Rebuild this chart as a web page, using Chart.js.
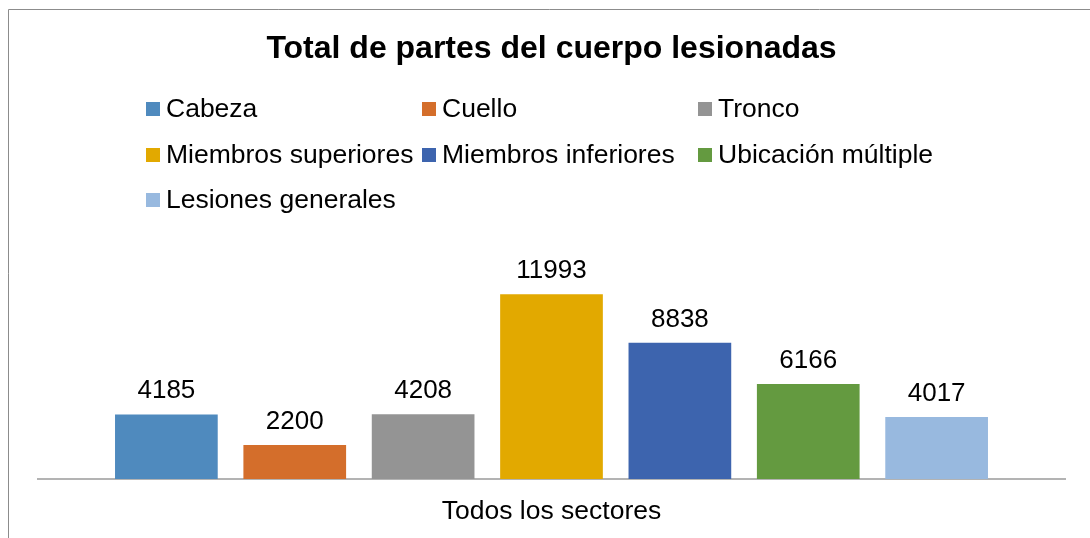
<!DOCTYPE html>
<html>
<head>
<meta charset="utf-8">
<script src="https://cdn.jsdelivr.net/npm/chart.js@4"></script>
<style>
  body { margin: 0; background: #fff; }
  canvas { display: block; }
</style>
</head>
<body>
<canvas id="chart" width="1090" height="538"></canvas>
<script>
const categories = ["Todos los sectores"];
const seriesNames = [
  "Cabeza",
  "Cuello",
  "Tronco",
  "Miembros superiores",
  "Miembros inferiores",
  "Ubicación múltiple",
  "Lesiones generales",
];
const seriesValues = [4185, 2200, 4208, 11993, 8838, 6166, 4017];
const seriesColors = ["#4f8abe", "#d46e2b", "#949494", "#e2a900", "#3d64ae", "#649a40", "#98b9df"];

const FONT = "'Liberation Sans', Arial, sans-serif";

// frame around the chart (only left and top edges are visible)
const framePlugin = {
  id: "frame",
  beforeDraw(chart) {
    const ctx = chart.ctx;
    ctx.save();
    ctx.strokeStyle = "#8c8c8c";
    ctx.lineWidth = 1;
    ctx.beginPath();
    ctx.moveTo(8.5, chart.height);
    ctx.lineTo(8.5, 9.5);
    ctx.lineTo(chart.width, 9.5);
    ctx.stroke();
    ctx.restore();
  },
};

// legend laid out in three fixed columns, like the original
const gridLegend = {
  id: "gridLegend",
  afterDraw(chart) {
    const ctx = chart.ctx;
    const colX = [146, 422, 698];
    const rowY = [117, 163, 208];
    ctx.save();
    ctx.font = "26.5px " + FONT;
    ctx.textBaseline = "alphabetic";
    ctx.textAlign = "left";
    chart.data.datasets.forEach((ds, i) => {
      const x = colX[i % 3];
      const y = rowY[Math.floor(i / 3)];
      ctx.fillStyle = ds.backgroundColor;
      ctx.fillRect(x, y - 15, 14, 14);
      ctx.fillStyle = "#000";
      ctx.fillText(ds.label, x + 20, y);
    });
    ctx.restore();
  },
};

// value labels above each bar
const valueLabels = {
  id: "valueLabels",
  afterDatasetsDraw(chart) {
    const ctx = chart.ctx;
    ctx.save();
    ctx.font = "26px " + FONT;
    ctx.fillStyle = "#000";
    ctx.textAlign = "center";
    ctx.textBaseline = "alphabetic";
    chart.data.datasets.forEach((ds, i) => {
      chart.getDatasetMeta(i).data.forEach((bar, j) => {
        ctx.fillText(String(ds.data[j]), bar.x, bar.y - 16);
      });
    });
    ctx.restore();
  },
};

new Chart(document.getElementById("chart"), {
  type: "bar",
  data: {
    labels: categories,
    datasets: seriesNames.map((name, i) => ({
      label: name,
      data: [seriesValues[i]],
      backgroundColor: seriesColors[i],
      categoryPercentage: 0.875,
      barPercentage: 0.8,
    })),
  },
  options: {
    responsive: false,
    animation: false,
    layout: { padding: { left: 38, right: 25, top: 0, bottom: 0 } },
    plugins: {
      legend: { display: false },
      tooltip: { enabled: false },
      title: {
        display: true,
        text: "Total de partes del cuerpo lesionadas",
        color: "#000",
        font: { family: FONT, size: 32, weight: "bold" },
        padding: { top: 30, bottom: 164 },
      },
    },
    scales: {
      x: {
        grid: { display: false, drawTicks: false },
        border: { display: true, color: "#b3b3b3", width: 2 },
        ticks: { color: "#000", padding: 17, font: { family: FONT, size: 26.5 } },
        afterFit: (scale) => { scale.height = 59; },
      },
      y: {
        display: false,
        min: 0,
        max: 16000,
      },
    },
  },
  plugins: [framePlugin, gridLegend, valueLabels],
});
</script>
</body>
</html>
